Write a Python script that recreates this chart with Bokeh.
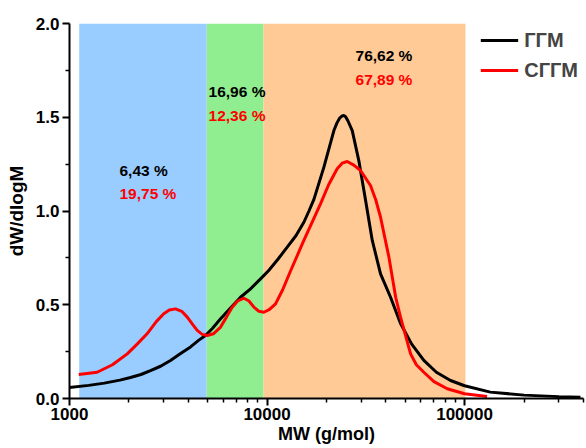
from bokeh.plotting import figure
from bokeh.models import Range1d, FixedTicker, NumeralTickFormatter, Legend, LegendItem
from bokeh.embed import file_html
from bokeh.resources import INLINE
from bokeh.core.properties import value

# ---- data ----
band_left = [1120, 4950, 9600]
band_right = [4950, 9600, 101000]
band_colors = ["#99CCFF", "#90EE90", "#FFCA96"]

ggm_mw = [1000, 1250, 1500, 1800, 2037, 2300, 2570, 2890, 3245, 3650, 4100, 4500, 4880,
          5300, 5820, 6500, 7340, 8250, 9270, 10200, 11300, 12650, 14000, 15360, 16300, 17270,
          19400, 21800, 22600, 23300, 24000, 24480, 25000, 25700, 27000, 29150, 31550, 34100,
          37550, 42200, 47400, 54000, 62200, 72000, 84900, 100000, 135000, 200000, 300000, 386000]
ggm_w = [0.059, 0.070, 0.082, 0.098, 0.112, 0.128, 0.149, 0.172, 0.203, 0.240, 0.275, 0.310, 0.336,
         0.375, 0.425, 0.480, 0.540, 0.585, 0.638, 0.683, 0.740, 0.807, 0.868, 0.940, 1.000, 1.062,
         1.234, 1.429, 1.470, 1.495, 1.507, 1.509, 1.503, 1.480, 1.429, 1.269, 1.056, 0.843,
         0.665, 0.540, 0.400, 0.290, 0.203, 0.140, 0.096, 0.068, 0.034, 0.018, 0.010, 0.007]

sggm_mw = [1114, 1380, 1650, 1960, 2200, 2470, 2750, 3000, 3200, 3440, 3700, 3945, 4200, 4430,
           4700, 4980, 5350, 5820, 6200, 6660, 7100, 7640, 8100, 8580, 9100, 9640, 10300,
           11040, 12000, 13150, 15360, 18650, 20500, 22650, 24000, 25470, 27500, 29740,
           33400, 35500, 37550, 41400, 44800, 47400, 53300, 57000, 62200, 70000, 81700,
           100000, 130000]
sggm_w = [0.128, 0.140, 0.180, 0.238, 0.290, 0.345, 0.410, 0.452, 0.472, 0.478, 0.465, 0.434, 0.395, 0.363,
          0.342, 0.336, 0.345, 0.381, 0.430, 0.487, 0.520, 0.535, 0.520, 0.487, 0.465, 0.460, 0.475,
          0.505, 0.580, 0.680, 0.843, 1.038, 1.140, 1.225, 1.255, 1.264, 1.245, 1.216,
          1.136, 1.060, 0.967, 0.754, 0.540, 0.434, 0.238, 0.180, 0.140, 0.090, 0.052,
          0.025, 0.011]

pct_text = ["6,43 %", "19,75 %", "16,96 %", "12,36 %", "76,62 %", "67,89 %"]
pct_color = ["black", "#FF0000", "black", "#FF0000", "black", "#FF0000"]
pct_x = [1791, 1791, 5057, 5057, 28050, 28050]
pct_y = [1.216, 1.091, 1.635, 1.509, 1.832, 1.699]

x_ticks = [1000, 10000, 100000]
x_minor = [2000, 3000, 4000, 5000, 6000, 7000, 8000, 9000,
           20000, 30000, 40000, 50000, 60000, 70000, 80000, 90000,
           200000, 300000, 400000]
y_ticks = [0.0, 0.5, 1.0, 1.5, 2.0]
y_minor = [0.25, 0.75, 1.25, 1.75]

FONT = "Liberation Sans"

p = figure(width=586, height=448, x_axis_type="log", output_backend="svg",
           toolbar_location=None, x_range=Range1d(1000, 400000), y_range=Range1d(0, 2.0),
           min_border_left=69, min_border_top=23, min_border_right=3, min_border_bottom=50)
p.grid.visible = False
p.outline_line_color = None

p.quad(left=band_left, right=band_right, bottom=0, top=2.0, color=band_colors, line_color=None)

l1 = p.line(ggm_mw, ggm_w, line_color="black", line_width=3)
l2 = p.line(sggm_mw, sggm_w, line_color="#FF0000", line_width=3)

p.text(x=pct_x, y=pct_y, text=pct_text, text_color=pct_color, text_font=value(FONT),
       text_font_style="bold", text_font_size="15.5px", text_align="left", text_baseline="middle")

legend = Legend(items=[LegendItem(label="ГГМ", renderers=[l1]), LegendItem(label="СГГМ", renderers=[l2])],
                location="top_right", margin=0, padding=5, spacing=6,
                glyph_width=38, glyph_height=24, label_height=24, label_standoff=6,
                label_text_font=FONT, label_text_font_style="bold", label_text_font_size="20px",
                background_fill_alpha=0, border_line_alpha=0)
p.add_layout(legend)

p.xaxis.ticker = FixedTicker(ticks=x_ticks, minor_ticks=x_minor)
p.xaxis.formatter = NumeralTickFormatter(format="0")
p.yaxis.ticker = FixedTicker(ticks=y_ticks, minor_ticks=y_minor)
p.yaxis.formatter = NumeralTickFormatter(format="0.0")

p.xaxis.axis_label = "MW (g/mol)"
p.yaxis.axis_label = "dW/dlogM"
for ax in (p.xaxis, p.yaxis):
    ax.axis_line_width = 2
    ax.major_tick_line_width = 2
    ax.minor_tick_line_width = 1.5
    ax.major_tick_out = 7
    ax.major_tick_in = 0
    ax.minor_tick_out = 4
    ax.minor_tick_in = 0
    ax.major_label_text_font = FONT
    ax.major_label_text_font_style = "bold"
    ax.major_label_text_font_size = "17px"
    ax.major_label_text_color = "black"
    ax.axis_label_text_font = FONT
    ax.axis_label_text_font_style = "bold"
    ax.axis_label_text_color = "black"
p.xaxis.axis_label_text_font_size = "18px"
p.yaxis.axis_label_text_font_size = "19px"
p.xaxis.major_label_standoff = 2
p.xaxis.axis_label_standoff = 1
p.yaxis.major_label_standoff = 3
p.yaxis.axis_label_standoff = 6

open("out.html", "w").write(file_html(p, INLINE))
